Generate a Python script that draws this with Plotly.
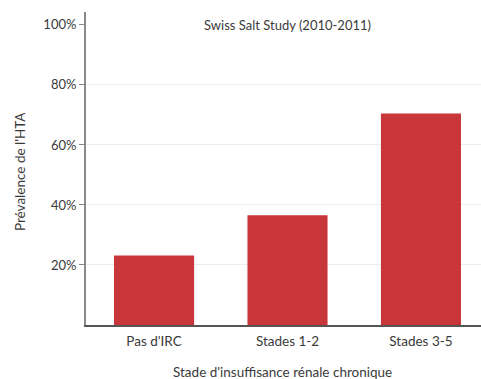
import plotly.graph_objects as go

# Hypertension prevalence by chronic kidney disease stage
categories = ["Pas d'IRC", "Stades 1-2", "Stades 3-5"]
prevalence = [23.2, 36.6, 70.5]
tick_values = [20, 40, 60, 80, 100]
tick_labels = ["20%", "40%", "60%", "80%", "100%"]
grid_values = [20, 40, 60, 80]

FONT = "Lato, 'Open Sans', sans-serif"
TEXT = "#3a3a3a"
BAR = "#c9363a"

W, H = 481, 379
L, R, T, B = 86, 0, 12, 54
PW, PH = W - L - R, H - T - B

fig = go.Figure(
    go.Bar(
        x=categories,
        y=prevalence,
        marker=dict(color=BAR, line=dict(width=0)),
        width=0.6,
    )
)

fig.update_layout(
    width=W,
    height=H,
    margin=dict(l=L, r=R, t=T, b=B, pad=0),
    paper_bgcolor="white",
    plot_bgcolor="white",
    showlegend=False,
    font=dict(family=FONT, size=13, color=TEXT),
    xaxis=dict(
        range=[-0.51, 2.45],
        showline=True,
        linecolor="#555555",
        linewidth=1.5,
        showgrid=False,
        ticks="outside",
        ticklen=3,
        tickcolor="rgba(0,0,0,0)",
        tickfont=dict(size=13.5, color=TEXT),
        fixedrange=True,
    ),
    yaxis=dict(
        range=[0, 104.3],
        tickvals=tick_values,
        ticktext=tick_labels,
        ticks="outside",
        ticklen=5,
        tickwidth=1,
        tickcolor="#888888",
        showline=True,
        linecolor="#8a8a8a",
        linewidth=2,
        showgrid=False,
        zeroline=False,
        tickfont=dict(size=13, color=TEXT),
        minor=dict(
            tickvals=grid_values,
            showgrid=True,
            gridcolor="#ececec",
            gridwidth=1,
            ticks="",
        ),
        fixedrange=True,
    ),
    annotations=[
        dict(
            text="Swiss Salt Study (2010-2011)",
            xref="paper", yref="y",
            x=(287 - L) / PW, y=100,
            xanchor="center", yanchor="middle",
            showarrow=False,
            font=dict(size=13, color=TEXT),
        ),
        dict(
            text="Prévalence de l'HTA",
            xref="paper", yref="paper",
            x=(20 - L) / PW, y=(H - B - 172) / PH,
            xanchor="center", yanchor="middle",
            textangle=-90,
            showarrow=False,
            font=dict(size=13.5, color=TEXT),
        ),
        dict(
            text="Stade d'insuffisance rénale chronique",
            xref="paper", yref="paper",
            x=(282 - L) / PW, y=-(372 - (H - B)) / PH,
            xanchor="center", yanchor="middle",
            showarrow=False,
            font=dict(size=13.5, color=TEXT),
        ),
    ],
)

fig.write_html("out.html")
